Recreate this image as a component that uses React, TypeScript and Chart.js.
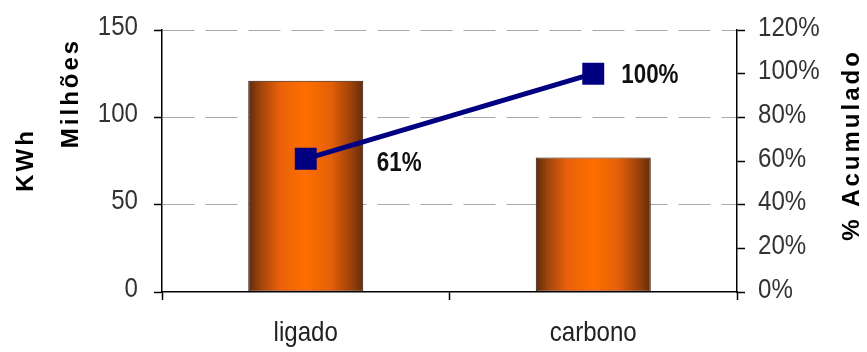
import React, { useEffect, useRef } from "react";
import { Chart, registerables } from "chart.js";

Chart.register(...registerables);

const categories: string[] = ["ligado", "carbono"];
const kwhMillions: number[] = [121, 77];
const accumulatedPct: number[] = [61, 100];
const leftTicks: number[] = [0, 50, 100, 150];
const rightTicks: number[] = [0, 20, 40, 60, 80, 100, 120];
const leftTitleLines: string[] = ["KWh", "Milhões"];
const rightTitle = "% Acumulado";

const SANS = '"Liberation Sans", Arial, sans-serif';

function barGradient(ctx: any) {
  const chart = ctx.chart;
  const area = chart.chartArea;
  const xs = chart.scales && chart.scales.x;
  if (!area || !xs || ctx.dataIndex === undefined) return "#ff6600";
  const cx = xs.getPixelForValue(ctx.dataIndex);
  const w = ((area.right - area.left) / categories.length) * 0.4;
  const g = chart.ctx.createLinearGradient(cx - w / 2, 0, cx + w / 2, 0);
  g.addColorStop(0, "#5e2a0e");
  g.addColorStop(0.1, "#9c440c");
  g.addColorStop(0.27, "#e8600a");
  g.addColorStop(0.5, "#ff6e00");
  g.addColorStop(0.72, "#e45f08");
  g.addColorStop(0.9, "#9a400a");
  g.addColorStop(1, "#652c0c");
  return g;
}

function drawScaled(c: CanvasRenderingContext2D, text: string, x: number, y: number, align: CanvasTextAlign, font: string, sx: number, color: string) {
  c.save();
  c.font = font;
  c.fillStyle = color;
  c.textAlign = align;
  c.textBaseline = "middle";
  c.translate(x, y);
  c.scale(sx, 1);
  c.fillText(text, 0, 0);
  c.restore();
}

const tickLabelPlugin = {
  id: "narrowTickLabels",
  afterDraw(chart: any) {
    const c = chart.ctx;
    const font = `28px ${SANS}`;
    const sx = 0.86;
    const y = chart.scales.y;
    y.ticks.forEach((t: any, i: number) => {
      drawScaled(c, String(t.label), y.right - 24, y.getPixelForTick(i) - 3, "right", font, sx, "#333");
    });
    const y1 = chart.scales.y1;
    y1.ticks.forEach((t: any, i: number) => {
      drawScaled(c, String(t.label), y1.left + 21, y1.getPixelForTick(i) - 2, "left", font, sx, "#333");
    });
    const x = chart.scales.x;
    x.ticks.forEach((t: any, i: number) => {
      drawScaled(c, String(t.label), x.getPixelForTick(i), x.top + 41, "center", font, sx, "#222");
    });
  },
};

const labelPlugin = {
  id: "pctLabels",
  afterDatasetsDraw(chart: any) {
    const meta = chart.getDatasetMeta(1);
    const c = chart.ctx;
    const offsets = [
      { dx: 71, dy: 4 },
      { dx: 28, dy: 2 },
    ];
    meta.data.forEach((pt: any, i: number) => {
      const o = offsets[i] || { dx: 28, dy: 0 };
      drawScaled(c, `${accumulatedPct[i]}%`, pt.x + o.dx, pt.y + o.dy, "left", `bold 28px ${SANS}`, 0.8, "#111");
    });
  },
};

const titlePlugin = {
  id: "axisTitles",
  afterDraw(chart: any) {
    const c = chart.ctx;
    c.save();
    c.font = `bold 24px ${SANS}`;
    c.fillStyle = "#000";
    c.textAlign = "center";
    c.textBaseline = "middle";
    try {
      (c as any).letterSpacing = "3px";
    } catch (e) {}
    const draw = (t: string, x: number, y: number) => {
      c.save();
      c.translate(x, y);
      c.rotate(-Math.PI / 2);
      c.fillText(t, 0, 0);
      c.restore();
    };
    draw(leftTitleLines[0], 26, 160);
    draw(leftTitleLines[1], 71, 93);
    draw(rightTitle, 852, 145);
    c.restore();
  },
};

export default function App() {
  const ref = useRef<HTMLCanvasElement | null>(null);
  useEffect(() => {
    if (!ref.current) return;
    const chart = new Chart(ref.current, {
      type: "bar",
      data: {
        labels: categories,
        datasets: [
          {
            type: "bar",
            label: "KWh",
            data: kwhMillions,
            yAxisID: "y",
            backgroundColor: barGradient as any,
            borderColor: "#2a1000",
            borderWidth: 1,
            borderSkipped: false,
            categoryPercentage: 1,
            barPercentage: 0.4,
            order: 2,
          },
          {
            type: "line",
            label: "% Acumulado",
            data: accumulatedPct,
            yAxisID: "y1",
            borderColor: "#000080",
            backgroundColor: "#000080",
            borderWidth: 5,
            pointStyle: "rect",
            pointRadius: 15.5,
            pointBorderWidth: 0,
            pointBackgroundColor: "#000080",
            fill: false,
            order: 1,
          } as any,
        ],
      },
      options: {
        animation: false,
        responsive: false,
        events: [],
        layout: { padding: { top: 30, left: 0, right: 0, bottom: 0 } },
        plugins: {
          legend: { display: false },
          tooltip: { enabled: false },
          title: { display: false },
        },
        scales: {
          x: {
            offset: true,
            grid: {
              offset: true,
              drawOnChartArea: false,
              tickLength: 8,
              tickColor: "#000",
              tickWidth: 1.5,
            },
            border: { display: true, color: "#000", width: 1.5 },
            ticks: { display: false },
            afterFit: (s: any) => {
              s.height = 60;
            },
          },
          y: {
            position: "left",
            min: leftTicks[0],
            max: leftTicks[leftTicks.length - 1],
            afterBuildTicks: (s: any) => {
              s.ticks = leftTicks.map((v) => ({ value: v }));
            },
            ticks: { display: false },
            grid: {
              color: (ctx: any) => (ctx.tick && ctx.tick.value === 0 ? "rgba(0,0,0,0)" : "#a8a8a8"),
              lineWidth: 1,
              tickLength: 8,
              tickColor: "#000",
              tickWidth: 1.5,
              tickBorderDash: [],
            } as any,
            border: { display: true, color: "#000", width: 1.5, dash: [32, 11] },
            afterFit: (s: any) => {
              s.width = 162;
            },
          },
          y1: {
            position: "right",
            min: rightTicks[0],
            max: rightTicks[rightTicks.length - 1],
            afterBuildTicks: (s: any) => {
              s.ticks = rightTicks.map((v) => ({ value: v }));
            },
            ticks: {
              display: false,
              callback: (v: any) => `${v}%`,
            },
            grid: {
              drawOnChartArea: false,
              tickLength: 8,
              tickColor: "#000",
              tickWidth: 1.5,
            },
            border: { display: true, color: "#000", width: 1.5 },
            afterFit: (s: any) => {
              s.width = 130;
            },
          },
        },
      },
      plugins: [labelPlugin, tickLabelPlugin, titlePlugin],
    });
    return () => chart.destroy();
  }, []);
  return (
    <div style={{ position: "absolute", left: 0, top: 0, width: 867, height: 352, background: "#fff" }}>
      <canvas ref={ref} width={867} height={352} style={{ display: "block" }} />
    </div>
  );
}
